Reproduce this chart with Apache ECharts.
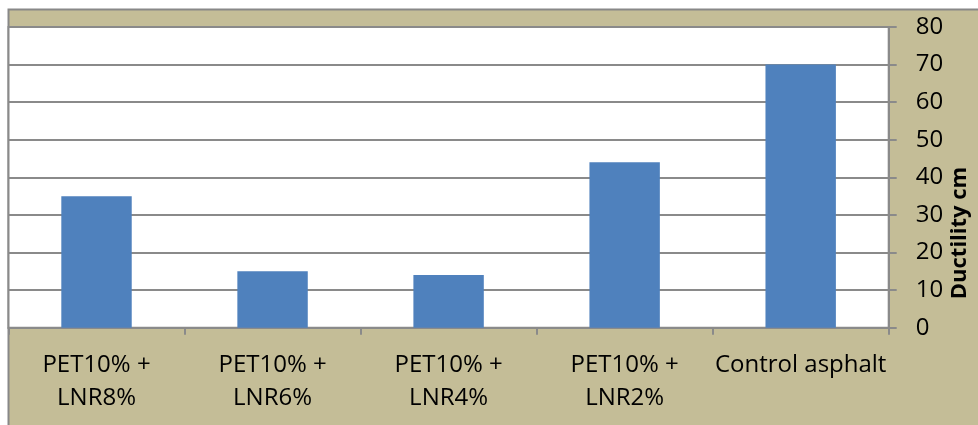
<!DOCTYPE html>
<html>
<head>
<meta charset="utf-8">
<script src="https://cdn.jsdelivr.net/npm/echarts@6/dist/echarts.min.js"></script>
<style>
  html, body { margin: 0; padding: 0; background: #fff; }
</style>
</head>
<body>
<div id="chart" style="width: 978px; height: 425px;"></div>
<script>
// 延度数据 (cm)
const categories = ['PET10% +\nLNR8%', 'PET10% +\nLNR6%', 'PET10% +\nLNR4%', 'PET10% +\nLNR2%', 'Control asphalt'];
const ductility = [35, 15, 14, 44, 70];
const yTicks = { min: 0, max: 80, step: 10 };

const gridGray = '#8a8a8a';
const font = '"Open Sans", "DejaVu Sans", sans-serif';

const myChart = echarts.init(document.getElementById('chart'));
myChart.setOption({
  backgroundColor: '#ffffff',
  animation: false,
  graphic: [
    {
      type: 'rect',
      z: -10,
      shape: { x: 8.5, y: 9.5, width: 1000, height: 440 },
      style: { fill: '#c4bd97', stroke: '#888888', lineWidth: 2 }
    },
    {
      type: 'text',
      z: 10,
      x: 960,
      y: 233,
      rotation: Math.PI / 2,
      style: {
        text: 'Ductility cm',
        font: 'bold 22px ' + font,
        fill: '#000',
        align: 'center',
        verticalAlign: 'middle'
      }
    }
  ],
  grid: {
    show: true,
    left: 8.5,
    right: 89.3,
    top: 27,
    bottom: 97.3,
    backgroundColor: '#ffffff',
    borderColor: gridGray,
    borderWidth: 2
  },
  xAxis: {
    type: 'category',
    data: categories,
    axisLine: { lineStyle: { color: gridGray, width: 2 } },
    axisTick: { show: true, length: 7, lineStyle: { color: gridGray, width: 2 } },
    axisLabel: {
      interval: 0,
      margin: 21,
      color: '#000',
      fontSize: 24,
      lineHeight: 33,
      fontFamily: font
    }
  },
  yAxis: {
    type: 'value',
    position: 'right',
    min: yTicks.min,
    max: yTicks.max,
    interval: yTicks.step,
    axisLine: { show: true, lineStyle: { color: gridGray, width: 2 } },
    axisTick: { show: true, length: 8, lineStyle: { color: gridGray, width: 2 } },
    axisLabel: {
      margin: 27,
      color: '#000',
      fontSize: 24,
      fontFamily: font
    },
    splitLine: { lineStyle: { color: gridGray, width: 2 } }
  },
  series: [
    {
      type: 'bar',
      data: ductility,
      barWidth: '40%',
      itemStyle: { color: '#4f81bd' }
    }
  ]
});
</script>
</body>
</html>
